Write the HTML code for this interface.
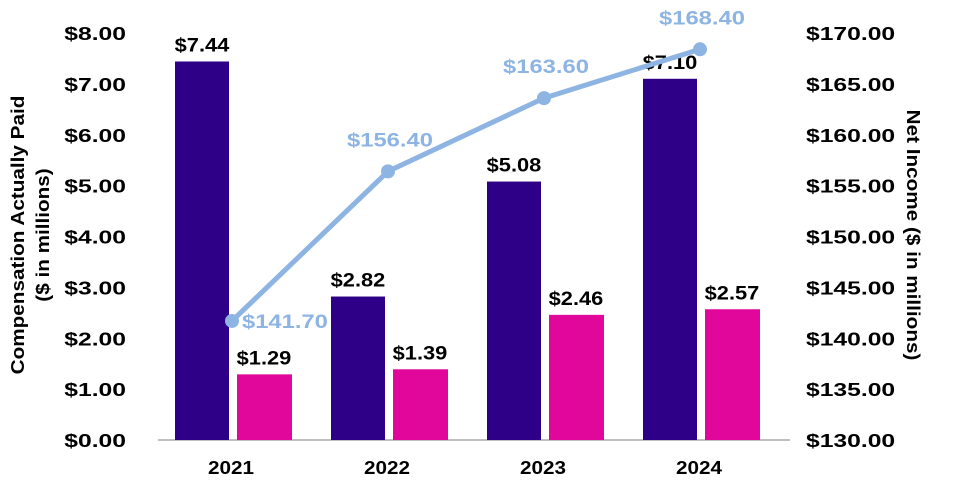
<!DOCTYPE html>
<html><head><meta charset="utf-8"><style>
body{margin:0;background:#fff;font-family:"Liberation Sans",sans-serif}
svg text{font-family:"Liberation Sans",sans-serif;font-weight:bold}
</style></head><body>
<svg id="c" width="960" height="480"></svg>
<script>
const categories=["2021","2022","2023","2024"];
const capValues=[7.44,2.82,5.08,7.10];
const avgValues=[1.29,1.39,2.46,2.57];
const netIncome=[141.70,156.40,163.60,168.40];
const leftTicks=[0,1,2,3,4,5,6,7,8];
const rightTicks=[130,135,140,145,150,155,160,165,170];
const NS="http://www.w3.org/2000/svg",svg=document.getElementById('c');
const y0=440,y1=33;
const yL=v=>y0-(v/8)*(y0-y1);
const yR=v=>y0-((v-130)/40)*(y0-y1);
const xC=i=>233+i*156;
function el(t,a,txt){const e=document.createElementNS(NS,t);for(const k in a)e.setAttribute(k,a[k]);if(txt!=null)e.textContent=txt;svg.appendChild(e);return e;}
function widen(e,f){const w=e.getComputedTextLength();e.setAttribute('textLength',w*f);e.setAttribute('lengthAdjust','spacingAndGlyphs');}
leftTicks.forEach(v=>{const t=el('text',{x:126,y:yL(v)+7,'text-anchor':'end','font-size':18,fill:'#000'},'$'+v.toFixed(2));

widen(t,1.37);});
rightTicks.forEach(v=>{const t=el('text',{x:806,y:yR(v)+7,'font-size':18,fill:'#000'},'$'+v.toFixed(2));

widen(t,1.37);});
let a=el('line',{x1:158,x2:790,y1:y0,y2:y0,stroke:'#aaa','stroke-width':1.5});


categories.forEach((c,i)=>{
 const cx=xC(i);
 const b1=el('rect',{x:cx-58,y:yL(capValues[i]),width:54,height:y0-yL(capValues[i]),fill:'#2e0087'});
 
 
 const b2=el('rect',{x:cx+4,y:yL(avgValues[i]),width:55,height:y0-yL(avgValues[i]),fill:'#e0079a'});
 
 
 const l1=el('text',{x:cx-31,y:yL(capValues[i])-10,'text-anchor':'middle','font-size':19,fill:'#000'},'$'+capValues[i].toFixed(2));
 
 widen(l1,1.15);
 const l2=el('text',{x:cx+31,y:yL(avgValues[i])-10,'text-anchor':'middle','font-size':19,fill:'#000'},'$'+avgValues[i].toFixed(2));
 
 widen(l2,1.15);
 const xl=el('text',{x:cx-2,y:474,'text-anchor':'middle','font-size':18,fill:'#000'},c);
 
 widen(xl,1.15);
});
const pts=netIncome.map((v,i)=>[xC(i)-1,yR(v)]);
const pl=el('polyline',{points:pts.map(p=>p.join(',')).join(' '),fill:'none',stroke:'#8db4e2','stroke-width':5});


pts.forEach((p,i)=>{
 const d=el('circle',{cx:p[0],cy:p[1],r:7,fill:'#8db4e2'});
 
 
 const t=i==0?el('text',{x:p[0]+10,y:p[1]+7,'font-size':19,fill:'#8db4e2'},'$'+netIncome[i].toFixed(2))
  :el('text',{x:p[0]+2,y:p[1]-25,'text-anchor':'middle','font-size':19,fill:'#8db4e2'},'$'+netIncome[i].toFixed(2));
 
 widen(t,1.25);
});
const lt=el('text',{transform:'translate(24,235) rotate(-90)','text-anchor':'middle','font-size':18,fill:'#000'},'Compensation Actually Paid');

widen(lt,1.15);
const lt2=el('text',{transform:'translate(49,235) rotate(-90)','text-anchor':'middle','font-size':18,fill:'#000'},'($ in millions)');

widen(lt2,1.15);
const rt=el('text',{transform:'translate(907,235) rotate(90)','text-anchor':'middle','font-size':18,fill:'#000'},'Net Income ($ in millions)');

widen(rt,1.15);
</script>
</body></html>
